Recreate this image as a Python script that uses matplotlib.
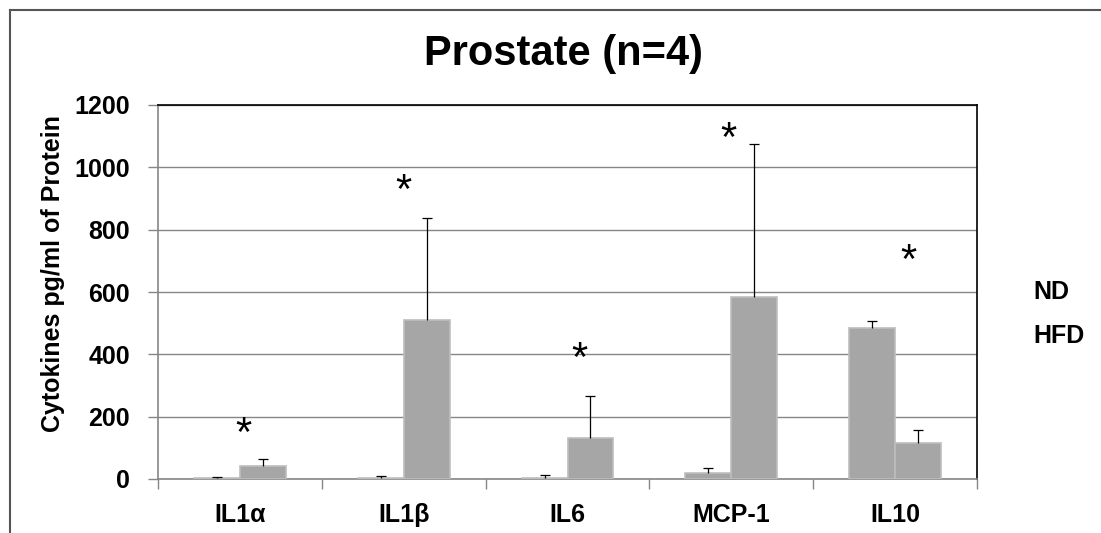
import numpy as np
import matplotlib
matplotlib.use("Agg")
import matplotlib.pyplot as plt
from matplotlib.lines import Line2D

# values
categories = ["IL1\u03b1", "IL1\u03b2", "IL6", "MCP-1", "IL10"]
nd_mean = [2, 3, 3, 20, 484]
nd_err = [3, 8, 9, 14, 22]
hfd_mean = [42, 510, 131, 585, 115]
hfd_err = [21, 327, 135, 490, 42]
star_height = [165, 943, 405, 1110, 718]
star_shift = [0.02, 0.0, 0.07, -0.02, 0.08]

plt.rcParams["font.family"] = ["Liberation Sans", "DejaVu Sans"]

fig = plt.figure(figsize=(11.01, 5.33), dpi=100)
ax = fig.add_axes([158 / 1101, 1 - 479 / 533, (977 - 158) / 1101, (479 - 105) / 533])

bar_gray = "#a6a6a6"
grid_gray = "#868686"
x = np.arange(len(categories))
w = 0.28


def bars_with_upper_err(xpos, means, errs):
    ax.bar(xpos, means, w, color=bar_gray, edgecolor="#bdbdbd", linewidth=1.2, zorder=3)
    tops = np.array(means) + np.array(errs)
    ax.vlines(xpos, means, tops, color="black", linewidth=0.9, zorder=4)
    ax.plot(xpos, tops, linestyle="none", marker="_", markersize=7,
            markeredgewidth=0.9, color="black", zorder=4)


bars_with_upper_err(x - w / 2, nd_mean, nd_err)
bars_with_upper_err(x + w / 2, hfd_mean, hfd_err)

for i in range(len(categories)):
    ax.annotate("*", (x[i] + star_shift[i], star_height[i]), xytext=(0, -5),
                textcoords="offset points", ha="center", va="center",
                fontsize=30, color="black", zorder=5)

ax.set_xlim(-0.5, len(categories) - 0.5)
ax.set_ylim(0, 1200)
ax.set_yticks(range(0, 1201, 200))
ax.yaxis.grid(True, color=grid_gray, linewidth=1)
ax.set_axisbelow(True)

ax.set_xticks(x)
ax.set_xticklabels(categories, fontsize=18, fontweight="bold")
ax.set_xticks(np.arange(-0.5, len(categories)), minor=True)
ax.tick_params(axis="x", which="major", length=0, pad=17)
ax.tick_params(axis="x", which="minor", length=7, color=grid_gray, width=1)
ax.tick_params(axis="y", length=7, color=grid_gray, width=1, pad=13, labelsize=18)
for lab in ax.get_yticklabels():
    lab.set_fontweight("bold")

for side in ["left", "bottom"]:
    ax.spines[side].set_color(grid_gray)
    ax.spines[side].set_linewidth(1.2)
for side in ["top", "right"]:
    ax.spines[side].set_color("black")
    ax.spines[side].set_linewidth(1.2)

ax.set_ylabel("Cytokines pg/ml of Protein", fontsize=18, fontweight="bold")
ax.yaxis.set_label_coords(-0.113, 0.55)

fig.text(563 / 1101, 1 - 54 / 533, "Prostate (n=4)", ha="center", va="center",
         fontsize=30, fontweight="bold")
fig.text(1033 / 1101, 1 - 292 / 533, "ND", ha="left", va="center", fontsize=18, fontweight="bold")
fig.text(1033 / 1101, 1 - 336 / 533, "HFD", ha="left", va="center", fontsize=18, fontweight="bold")

# outer chart frame (right and bottom sides are cut off in the reference)
fig.add_artist(Line2D([10 / 1101, 1], [1 - 10 / 533, 1 - 10 / 533], color="#555555", linewidth=1.5))
fig.add_artist(Line2D([10 / 1101, 10 / 1101], [0, 1 - 10 / 533], color="#555555", linewidth=1.5))

fig.savefig("out.png", dpi=100)
